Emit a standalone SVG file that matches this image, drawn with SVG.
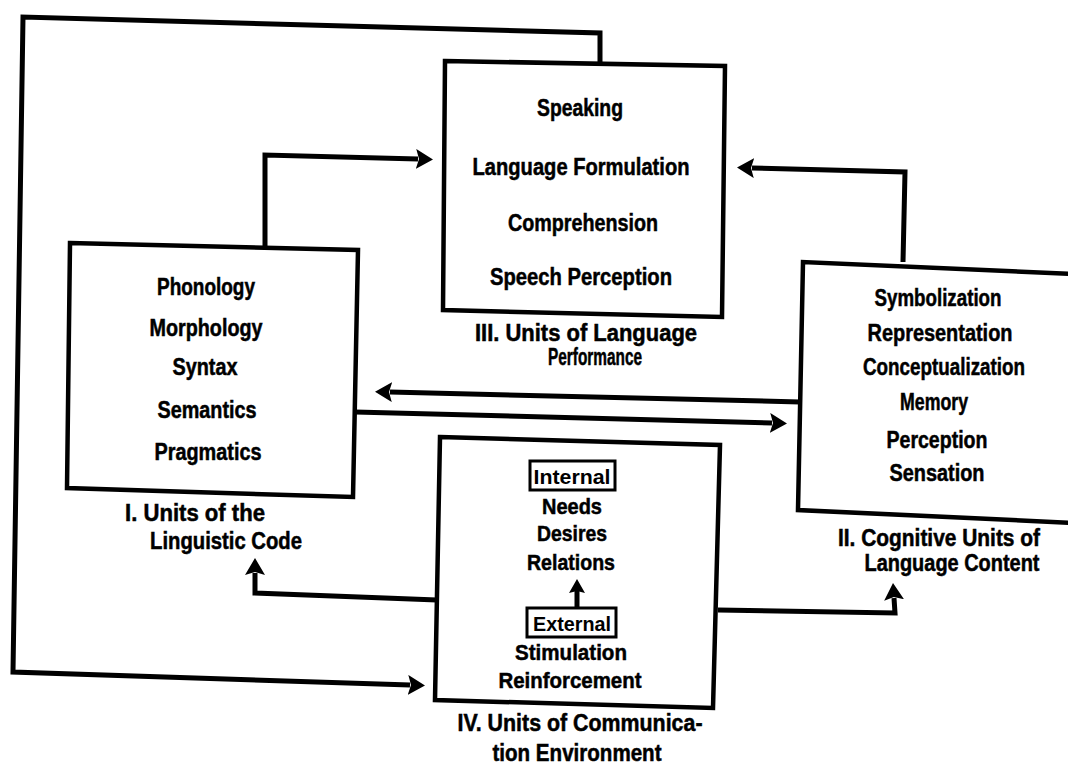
<svg xmlns="http://www.w3.org/2000/svg" width="1068" height="767" viewBox="0 0 1068 767">
<defs>
<style>
.box{fill:none;stroke:#000;stroke-width:4.5;stroke-linejoin:miter}
.tag{fill:none;stroke:#000;stroke-width:3}
.con{fill:none;stroke:#000;stroke-width:5;stroke-linejoin:miter}
text{font-family:"Liberation Sans",Arial,sans-serif;font-weight:bold;font-size:23px;fill:#000;stroke:#000;stroke-width:0.5;text-anchor:middle}
.sm{font-size:22px}
.tg{font-size:21px;stroke-width:0}
</style>
<marker id="ah" markerUnits="userSpaceOnUse" markerWidth="18" markerHeight="20" refX="2" refY="10" orient="auto" viewBox="0 0 18 20">
<path d="M0,0 L17,10 L0,20 L3,10 z" fill="#000"/>
</marker>
<marker id="ahs" markerUnits="userSpaceOnUse" markerWidth="14" markerHeight="16" refX="2" refY="8" orient="auto" viewBox="0 0 14 16">
<path d="M0,0 L14,8 L0,16 L2,8 z" fill="#000"/>
</marker>
</defs>
<rect width="1068" height="767" fill="#fff"/>
<g id="connectors">
<path class="con" d="M265,247 L265,155 L418,159" marker-end="url(#ah)"/>
<path class="con" d="M903,262 L905,172 L752,168" marker-end="url(#ah)"/>
<path class="con" d="M800,402 L390,392" marker-end="url(#ah)"/>
<path class="con" d="M355,412 L772,423" marker-end="url(#ah)"/>
<path class="con" d="M437,600 L255,593 L255,573" marker-end="url(#ah)"/>
<path class="con" d="M718,610 L895,613 L894,598" marker-end="url(#ah)"/>
<path class="con" d="M600,62 L600,33 L23,17 L13,672 L410,685" marker-end="url(#ah)"/>
<path class="con" d="M577,608 L577,591" stroke-width="4" marker-end="url(#ahs)"/>
</g>
<g id="node-I">
<polygon class="box" points="70,243 358,250 353,497 67,488"/>
<text x="206" y="295" textLength="98" lengthAdjust="spacingAndGlyphs">Phonology</text>
<text x="206" y="336" textLength="113" lengthAdjust="spacingAndGlyphs">Morphology</text>
<text x="205" y="375" textLength="65" lengthAdjust="spacingAndGlyphs">Syntax</text>
<text x="207" y="418" textLength="99" lengthAdjust="spacingAndGlyphs">Semantics</text>
<text x="208" y="460" textLength="107" lengthAdjust="spacingAndGlyphs">Pragmatics</text>
<text x="195" y="521" textLength="140" lengthAdjust="spacingAndGlyphs">I. Units of the</text>
<text x="226" y="549" textLength="152" lengthAdjust="spacingAndGlyphs">Linguistic Code</text>
</g>
<g id="node-III">
<polygon class="box" points="445,61 725,66 722,317 443,310"/>
<text x="580" y="116" textLength="86" lengthAdjust="spacingAndGlyphs">Speaking</text>
<text x="581" y="175" textLength="217" lengthAdjust="spacingAndGlyphs">Language Formulation</text>
<text x="583" y="231" textLength="150" lengthAdjust="spacingAndGlyphs">Comprehension</text>
<text x="581" y="285" textLength="182" lengthAdjust="spacingAndGlyphs">Speech Perception</text>
<text x="586" y="341" textLength="222" lengthAdjust="spacingAndGlyphs">III. Units of Language</text>
<text x="595" y="365" textLength="94" lengthAdjust="spacingAndGlyphs">Performance</text>
</g>
<g id="node-II">
<polyline class="box" points="1075,274 803,262 798,510 1075,523"/>
<text x="938" y="306" textLength="127" lengthAdjust="spacingAndGlyphs">Symbolization</text>
<text x="940" y="341" textLength="145" lengthAdjust="spacingAndGlyphs">Representation</text>
<text x="944" y="375" textLength="162" lengthAdjust="spacingAndGlyphs">Conceptualization</text>
<text x="934" y="410" textLength="68" lengthAdjust="spacingAndGlyphs">Memory</text>
<text x="937" y="448" textLength="101" lengthAdjust="spacingAndGlyphs">Perception</text>
<text x="937" y="481" textLength="95" lengthAdjust="spacingAndGlyphs">Sensation</text>
<text x="939" y="546" textLength="202" lengthAdjust="spacingAndGlyphs">II. Cognitive Units of</text>
<text x="952" y="571" textLength="175" lengthAdjust="spacingAndGlyphs">Language Content</text>
</g>
<g id="node-IV">
<polygon class="box" points="440,437 720,445 713,708 435,700"/>
<rect class="tag" x="530" y="461" width="85" height="29"/>
<text class="tg" x="572" y="484" textLength="77" lengthAdjust="spacingAndGlyphs">Internal</text>
<text class="sm" x="572" y="514" textLength="60" lengthAdjust="spacingAndGlyphs">Needs</text>
<text class="sm" x="572" y="541" textLength="70" lengthAdjust="spacingAndGlyphs">Desires</text>
<text class="sm" x="571" y="570" textLength="88" lengthAdjust="spacingAndGlyphs">Relations</text>
<rect class="tag" x="527" y="608" width="89" height="29"/>
<text class="tg" x="572" y="631" textLength="78" lengthAdjust="spacingAndGlyphs">External</text>
<text class="sm" x="571" y="660" textLength="112" lengthAdjust="spacingAndGlyphs">Stimulation</text>
<text class="sm" x="570" y="688" textLength="143" lengthAdjust="spacingAndGlyphs">Reinforcement</text>
<text x="580" y="731" textLength="245" lengthAdjust="spacingAndGlyphs">IV. Units of Communica-</text>
<text x="577" y="761" textLength="169" lengthAdjust="spacingAndGlyphs">tion Environment</text>
</g>
</svg>
